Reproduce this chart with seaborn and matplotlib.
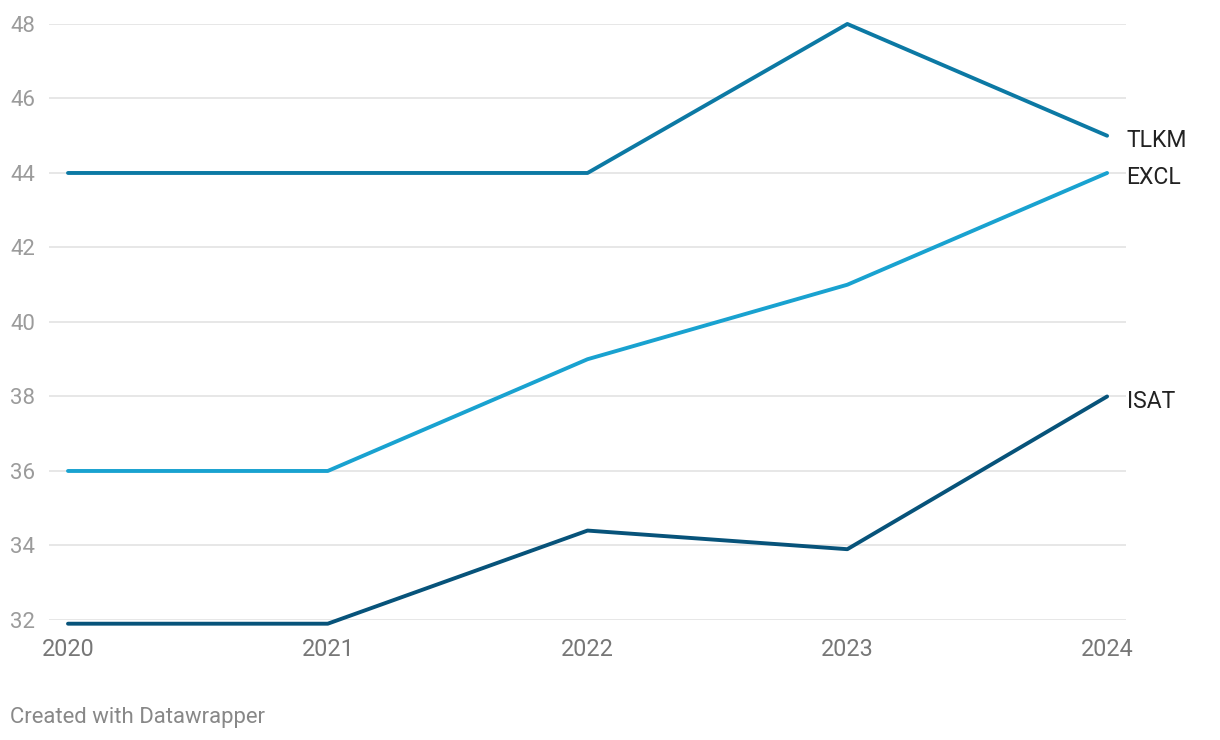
import pandas as pd
import matplotlib
matplotlib.use('Agg')
import matplotlib.pyplot as plt
import seaborn as sns

# data
years = [2020, 2021, 2022, 2023, 2024]
tlkm = [44, 44, 44, 48, 45]
excl = [36, 36, 39, 41, 44]
isat = [31.9, 31.9, 34.4, 33.9, 38]
series_names = ['TLKM', 'EXCL', 'ISAT']
y_ticks = [32, 34, 36, 38, 40, 42, 44, 46, 48]

colors = {'TLKM': '#0c79a4', 'EXCL': '#19a2d0', 'ISAT': '#07537a'}

df = pd.DataFrame({
    'Year': years * 3,
    'Value': tlkm + excl + isat,
    'Series': ['TLKM'] * 5 + ['EXCL'] * 5 + ['ISAT'] * 5,
})

sns.set_style('white')
plt.rcParams['font.family'] = ['Roboto', 'DejaVu Sans']

fig = plt.figure(figsize=(12.2, 7.4), dpi=100)
ax = fig.add_axes([0.0402, 0.1622, 0.8828, 0.8054])

sns.lineplot(data=df, x='Year', y='Value', hue='Series', hue_order=series_names,
             palette=colors, linewidth=2.8, ax=ax, legend=False)
for line in ax.lines:
    line.set_clip_on(False)
    line.set_solid_capstyle('round')
    line.set_solid_joinstyle('round')

ax.set_xlim(2020 - 0.073, 2024 + 0.073)
ax.set_ylim(32, 48)
ax.set_yticks(y_ticks)
ax.set_xticks(years)
ax.set_xticklabels([str(y) for y in years])
ax.grid(axis='y', color='#e3e3e3', linewidth=1.2)
ax.set_axisbelow(True)
for s in ax.spines.values():
    s.set_visible(False)
ax.tick_params(axis='y', length=0, pad=10, labelsize=16, labelcolor='#9b9b9b')
ax.tick_params(axis='x', length=0, pad=13, labelsize=16.8, labelcolor='#777777')
ax.set_xlabel('')
ax.set_ylabel('')

# end labels
for name, vals in zip(series_names, [tlkm, excl, isat]):
    ax.annotate(name, xy=(years[-1], vals[-1]), xytext=(14, -3.5),
                textcoords='offset points', ha='left', va='center',
                fontsize=16.6, color='#222222', annotation_clip=False)

fig.text(10 / 1220, 1 - 717 / 740, 'Created with Datawrapper', ha='left', va='center',
         fontsize=15.9, color='#888888')

fig.savefig('out.png', dpi=100, facecolor='white')
